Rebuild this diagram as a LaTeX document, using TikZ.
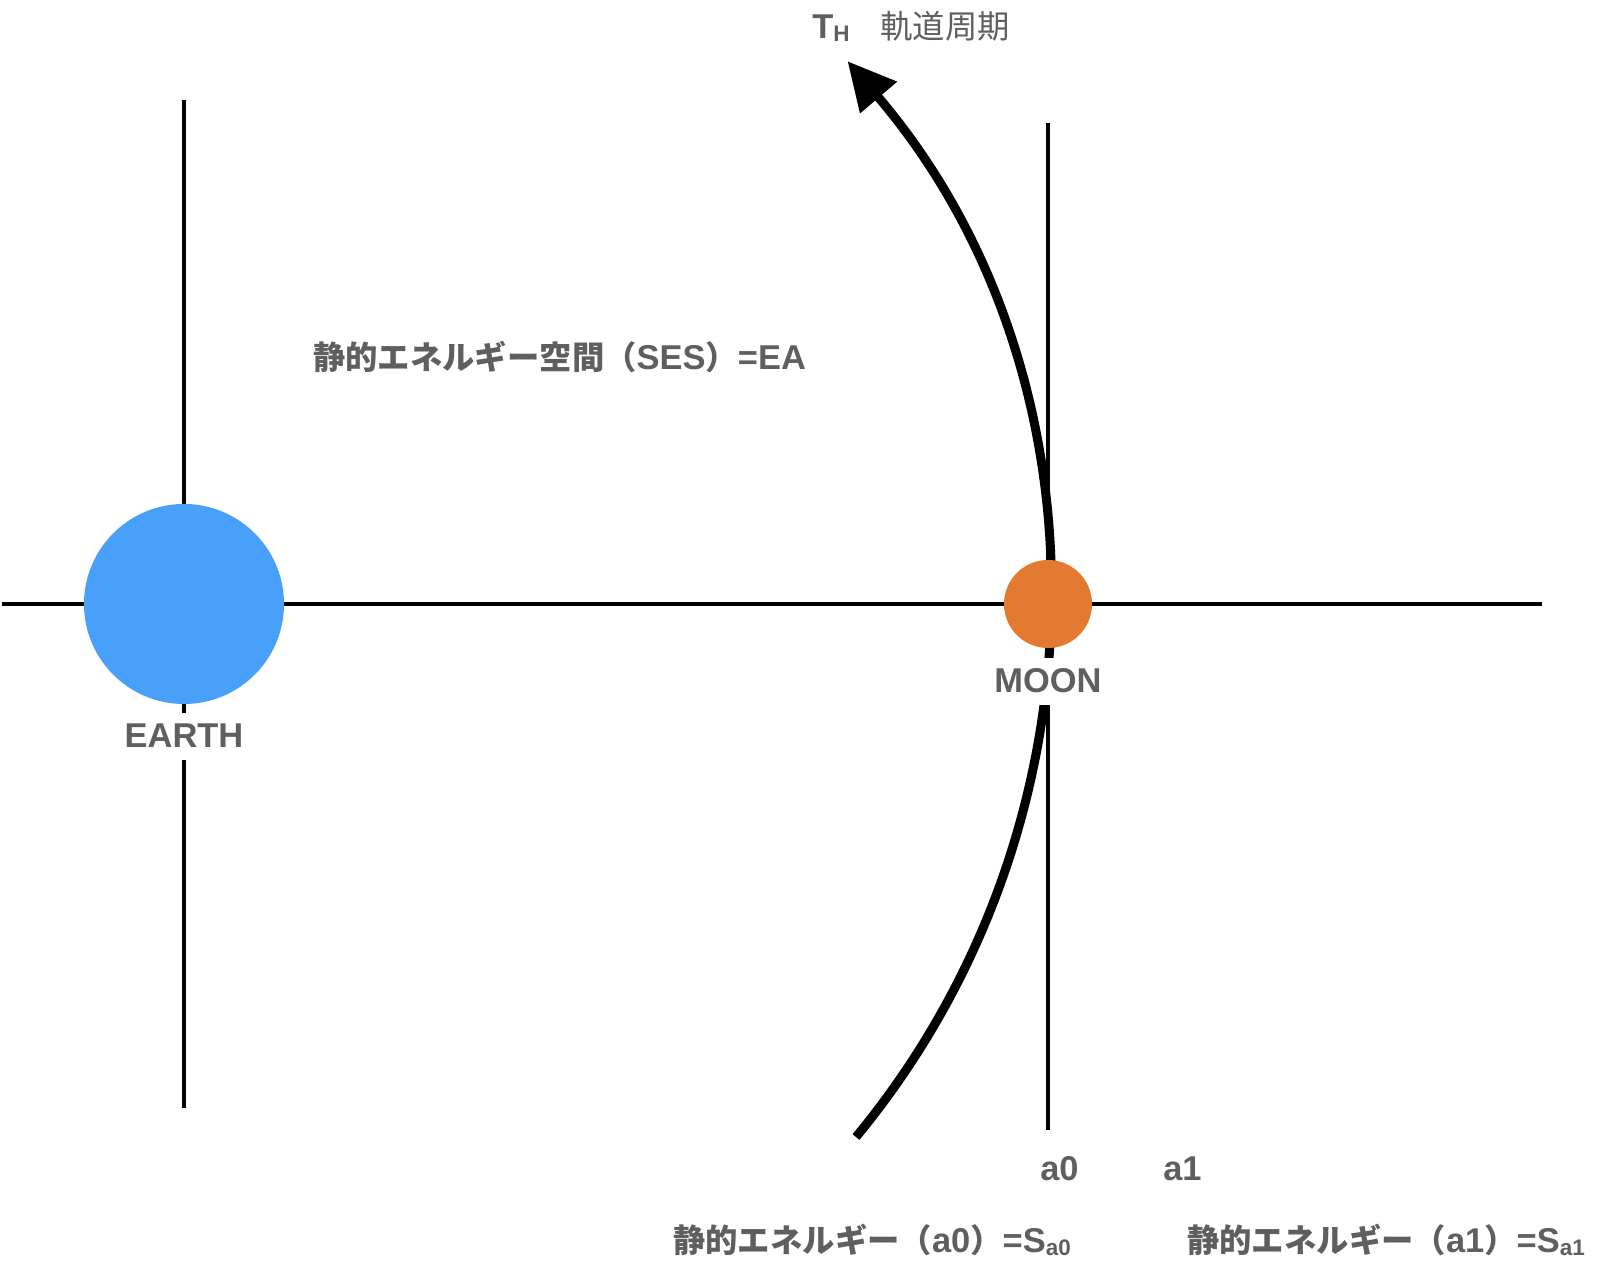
\documentclass[tikz,border=0pt]{standalone}
\usepackage{fontspec}
\setmainfont{Liberation Sans}
\newfontfamily\jp{Noto Sans CJK JP}
\usepackage{tikz}
\usetikzlibrary{positioning, arrows.meta}
\definecolor{labelgray}{HTML}{5F5F5F}
\definecolor{earthblue}{HTML}{48A0F8}
\definecolor{moonorange}{HTML}{E37A30}
\newcommand{\lowsub}[1]{\raisebox{-2pt}{\fontsize{16}{16}\selectfont #1}}
\newcommand{\jptext}[1]{{\jp\fontsize{23}{28}\selectfont #1}}
\tikzset{
axis/.style={line width=2.85pt}, % the thin cross lines
orbit/.style={line width=6.4pt, -{Triangle[length=34pt,width=33pt]}}, % the path of the moon
body/.style={circle, inner sep=0pt, draw=none}, % earth and moon
tag/.style={text=labelgray, font=\bfseries\fontsize{24.5}{28}\selectfont, inner sep=0pt}, % every text
nametag/.style={tag, fill=white, inner xsep=4pt, inner ysep=6.5pt, text height=18pt, text depth=2.5pt}, % names that cut the lines
}

\begin{document}
\begin{tikzpicture}[x=0.025cm, y=0.025cm]
            \useasboundingbox (0,0) rectangle (1602,1266);
            \coordinate (west) at (2,662);
            \coordinate (east) at (1542,662);
            \coordinate (earthtop) at (184,1166);
            \coordinate (earthbottom) at (184,158);
            \coordinate (moontop) at (1048,1143);
            \coordinate (moonbottom) at (1048,136);
            \coordinate (orbitstart) at (856,129);
            \draw[axis] (west) -- (east);
            \draw[axis] (earthtop) -- (earthbottom);
            \draw[axis] (moontop) -- (moonbottom);
            \draw[orbit] (orbitstart) arc[start angle=-39.6, end angle=40.5, radius=836];
            \node[body, fill=earthblue, minimum size=5cm] (earth) at (184,662) {};
            \node[body, fill=moonorange, minimum size=2.2cm] (moon) at (1048,662) {};
            \node[nametag, below=0.2cm of earth] (earthname) {EARTH};
            \node[nametag, below=0.225cm of moon] (moonname) {MOON};
            \node[tag, anchor=base west] (period) at (812,1227) {T\lowsub{H}\hspace{0.9em}{\mdseries\jptext{軌道周期}}};
            \node[tag, anchor=base west] (ses) at (313,896) {\jptext{静的エネルギー空間（}SES\jptext{）}=EA};
            \node[tag, anchor=base west] (azero) at (1040,85) {a0};
            \node[tag, anchor=base west] (aone) at (1163,85) {a1};
            \node[tag, anchor=base west] (szero) at (673,13) {\jptext{静的エネルギー（}a0\jptext{）}=S\lowsub{a0}};
            \node[tag, anchor=base west] (sone) at (1187,13) {\jptext{静的エネルギー（}a1\jptext{）}=S\lowsub{a1}};
\end{tikzpicture}
\end{document}
